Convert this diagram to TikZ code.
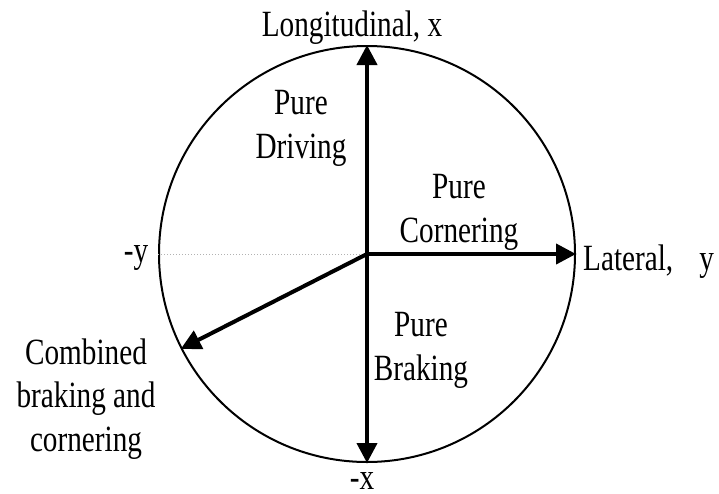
\documentclass[tikz,border=0pt]{standalone}
\usepackage{fontspec}
\setmainfont{Liberation Serif}[FakeStretch=0.79]
\usetikzlibrary{arrows.meta}
\begin{document}
\begin{tikzpicture}[x=1pt,y=-1pt,
  lbl/.style={font=\fontsize{37}{43.5}\selectfont, inner sep=0pt, align=center},
  axisline/.style={line width=4pt, -{Triangle[length=20pt,width=20pt]}},
  ring/.style={circle, draw, line width=2pt, minimum size=416pt, inner sep=0pt}]
\useasboundingbox (0,0) rectangle (719,493);
\node[ring] (circ) at (367,254) {};
\coordinate (c) at (367,254);
\draw[gray!60, line width=1pt, dotted] (circ.west) -- (c);
\draw[line width=4pt, {Triangle[length=20pt,width=20pt]}-{Triangle[length=20pt,width=20pt]}] (circ.south) -- (circ.north);
\draw[axisline] (c) -- (circ.east);
\draw[axisline] (c) -- (circ.207);
\node[lbl, anchor=base] (long) at (352,36) {Longitudinal, x};
\node[lbl, anchor=base] (drive) at (301,158) {Pure\\Driving};
\node[lbl, anchor=base] (corner) at (459,242) {Pure\\Cornering};
\node[lbl, anchor=base] (brake) at (421,380) {Pure\\Braking};
\node[lbl, anchor=base] (comb) at (86,451) {Combined\\braking and\\cornering};
\node[lbl, anchor=base] (negy) at (136,262) {-y};
\node[lbl, anchor=base, text depth=0pt] (negx) at (362,489) {-x};
\node[lbl, anchor=base west] (lat) at (583,270) {Lateral,\hspace{26pt}y};
\end{tikzpicture}
\end{document}
